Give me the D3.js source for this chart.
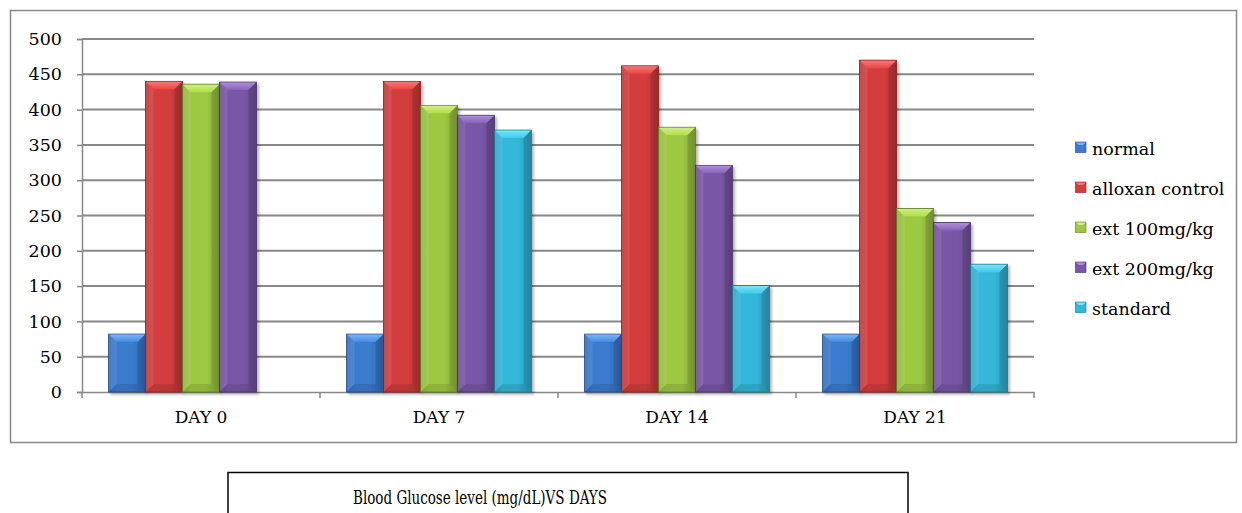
<!DOCTYPE html>
<html><head><meta charset="utf-8">
<script src="https://cdn.jsdelivr.net/npm/d3@7"></script>
<style>
html,body{margin:0;padding:0;background:#fff;}
svg{display:block;}
</style></head>
<body>
<svg id="chart" width="1242" height="513"></svg>
<script>
const categories = ["DAY 0", "DAY 7", "DAY 14", "DAY 21"];
const seriesNames = ["normal", "alloxan control", "ext 100mg/kg", "ext 200mg/kg", "standard"];
const normal = [82, 82, 82, 82];
const alloxanControl = [440, 440, 462, 470];
const ext100 = [436, 406, 375, 260];
const ext200 = [439, 392, 321, 240];
const standard = [0, 371, 151, 181];
const yTicks = [0, 50, 100, 150, 200, 250, 300, 350, 400, 450, 500];
const title = "Blood Glucose level (mg/dL)VS DAYS";

const seriesValues = [normal, alloxanControl, ext100, ext200, standard];
const colors = [
  {base:"#3a7bcf", light:"#7db4f0", dark:"#1d4a85"},
  {base:"#d43d3d", light:"#f27a7a", dark:"#8a1e1e"},
  {base:"#9dc843", light:"#d0ec84", dark:"#5a7d20"},
  {base:"#7a57a6", light:"#ad8ed8", dark:"#47306c"},
  {base:"#35b7d9", light:"#7fe0f6", dark:"#19758e"}
];
const FONT = "'DejaVu Serif', 'Liberation Serif', serif";

const svg = d3.select("#chart");
const defs = svg.append("defs");
colors.forEach((c,i)=>{
  const g = defs.append("linearGradient").attr("id","bg"+i).attr("x1","0").attr("x2","1").attr("y1","0").attr("y2","0");
  g.append("stop").attr("offset","0").attr("stop-color",d3.color(c.base).darker(0.3));
  g.append("stop").attr("offset","0.22").attr("stop-color",c.base);
  g.append("stop").attr("offset","0.65").attr("stop-color",c.base);
  g.append("stop").attr("offset","1").attr("stop-color",d3.color(c.base).darker(0.55));
  const t = defs.append("linearGradient").attr("id","tg"+i).attr("x1","0").attr("x2","0").attr("y1","0").attr("y2","1");
  t.append("stop").attr("offset","0").attr("stop-color",c.light);
  t.append("stop").attr("offset","1").attr("stop-color",d3.color(c.base).brighter(0.3));
});
const filt = defs.append("filter").attr("id","shadow").attr("x","-20%").attr("y","-10%").attr("width","150%").attr("height","130%");
filt.append("feDropShadow").attr("dx",2).attr("dy",2).attr("stdDeviation",1.5).attr("flood-color","#000").attr("flood-opacity",0.3);

// outer border
svg.append("rect").attr("x",10.5).attr("y",10.5).attr("width",1226).attr("height",432)
  .attr("fill","none").attr("stroke","#888").attr("stroke-width",1.5);

const plot = {left:82, right:1034, top:39, bottom:392};
const x = d3.scaleBand().domain(categories).range([plot.left, plot.right]).paddingInner(0).paddingOuter(0);
const y = d3.scaleLinear().domain([0,500]).range([plot.bottom, plot.top]);
const xs = d3.scaleBand().domain(d3.range(seriesNames.length)).range([0, x.bandwidth()]).paddingOuter(0.72).paddingInner(0);

// gridlines
svg.append("g").selectAll("line").data(yTicks.filter(d=>d>0)).join("line")
  .attr("x1",plot.left).attr("x2",plot.right)
  .attr("y1",d=>y(d)).attr("y2",d=>y(d))
  .attr("stroke","#888").attr("stroke-width",2);

// y axis
const yAxis = svg.append("g").attr("transform",`translate(${plot.left},0)`)
  .call(d3.axisLeft(y).tickValues(yTicks).tickSize(5).tickPadding(15));
yAxis.select(".domain").attr("stroke","#888").attr("stroke-width",1.5);
yAxis.selectAll(".tick line").attr("stroke","#888").attr("stroke-width",1.5);
yAxis.selectAll("text").style("font-size","17.5px").style("font-family",FONT).attr("fill","#000");

// x axis
const xAxis = svg.append("g").attr("transform",`translate(0,${plot.bottom})`)
  .call(d3.axisBottom(x).tickSize(0).tickPadding(19));
xAxis.select(".domain").attr("stroke","#888").attr("stroke-width",1.5);
xAxis.selectAll("text").style("font-size","17px").style("font-family",FONT).attr("fill","#000");
svg.append("g").selectAll("line").data(d3.range(categories.length+1)).join("line")
  .attr("x1",i=> i<categories.length ? x(categories[i]) : plot.right)
  .attr("x2",i=> i<categories.length ? x(categories[i]) : plot.right)
  .attr("y1",plot.bottom).attr("y2",plot.bottom+6)
  .attr("stroke","#888").attr("stroke-width",1.5);

// bars
const bevel = 8;
const barsG = svg.append("g");
categories.forEach((cat,ci)=>{
  seriesValues.forEach((vals,si)=>{
    const v = vals[ci];
    if(!v) return;
    const bx = x(cat)+xs(si), bw = xs.bandwidth();
    const by = y(v), bh = y(0)-y(v);
    const g = barsG.append("g");
    g.append("rect").attr("x",bx).attr("y",by).attr("width",bw).attr("height",bh)
      .attr("fill",`url(#bg${si})`).attr("stroke",colors[si].dark).attr("stroke-width",0.8)
      .attr("filter","url(#shadow)");
    g.append("path").attr("d",`M${bx+0.5},${by+0.5} L${bx+bw-0.5},${by+0.5} L${bx+bw-bevel},${by+bevel} L${bx+bevel},${by+bevel} Z`)
      .attr("fill",`url(#tg${si})`);
    g.append("path").attr("d",`M${bx+0.5},${by+0.5} L${bx+bevel},${by+bevel} L${bx+bevel},${by+bh-bevel} L${bx+0.5},${by+bh-0.5}Z`)
      .attr("fill","#fff").attr("opacity",0.1);
    g.append("path").attr("d",`M${bx+bw-0.5},${by+0.5} L${bx+bw-bevel},${by+bevel} L${bx+bw-bevel},${by+bh-bevel} L${bx+bw-0.5},${by+bh-0.5}Z`)
      .attr("fill","#000").attr("opacity",0.12);
    g.append("path").attr("d",`M${bx+0.5},${by+bh-0.5} L${bx+bevel},${by+bh-bevel} L${bx+bw-bevel},${by+bh-bevel} L${bx+bw-0.5},${by+bh-0.5}Z`)
      .attr("fill","#000").attr("opacity",0.1);
  });
});

// legend
const legY = d3.scalePoint().domain(seriesNames).range([147, 307]);
const leg = svg.append("g");
seriesNames.forEach((n,i)=>{
  const yy = legY(n);
  leg.append("rect").attr("x",1075.5).attr("y",yy-5).attr("width",10.5).attr("height",10.5)
    .attr("fill",colors[i].base).attr("stroke",colors[i].dark).attr("stroke-width",0.6);
  leg.append("path").attr("d",`M1076,${yy-4.5} L1085.5,${yy-4.5} L1083,${yy-2} L1078.5,${yy-2} Z`).attr("fill",colors[i].light);
  leg.append("text").attr("x",1092).attr("y",yy+7.5).style("font-size","17.5px").style("font-family",FONT).attr("fill","#000").text(n);
});

// title box
svg.append("rect").attr("x",228).attr("y",472.5).attr("width",680).attr("height",60)
  .attr("fill","#fff").attr("stroke","#000").attr("stroke-width",1.5);
svg.append("text").attr("x",480).attr("y",504).attr("text-anchor","middle")
  .style("font-family","'DejaVu Serif Condensed', 'DejaVu Serif', serif").style("font-size","18px")
  .attr("textLength",254).attr("lengthAdjust","spacingAndGlyphs").attr("fill","#000").text(title);
</script>
</body></html>
